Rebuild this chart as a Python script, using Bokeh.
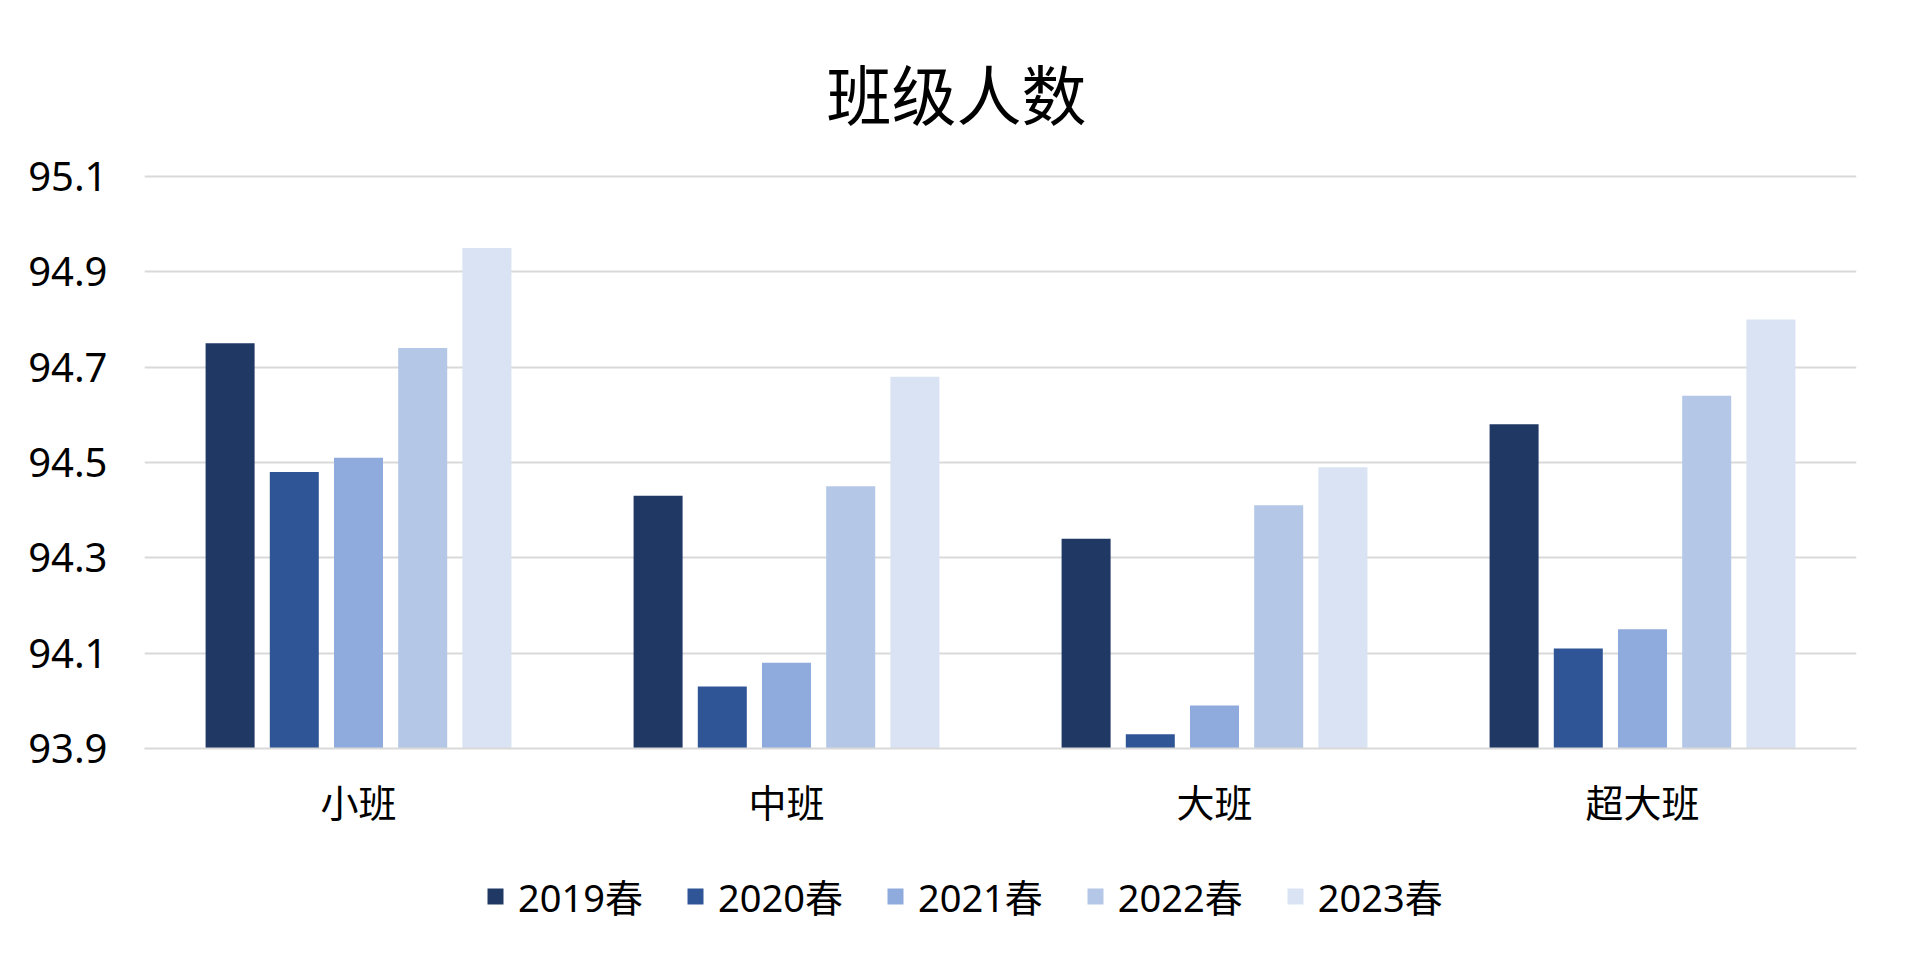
from bokeh.plotting import figure
from bokeh.layouts import column
from bokeh.models import FactorRange, Range1d, Legend, LegendItem, ColumnDataSource, FixedTicker
from bokeh.transform import dodge
from bokeh.embed import file_html
from bokeh.resources import INLINE

categories = ["小班", "中班", "大班", "超大班"]
series = ["2019春", "2020春", "2021春", "2022春", "2023春"]
v2019 = [94.75, 94.43, 94.34, 94.58]
v2020 = [94.48, 94.03, 93.93, 94.11]
v2021 = [94.51, 94.08, 93.99, 94.15]
v2022 = [94.74, 94.45, 94.41, 94.64]
v2023 = [94.95, 94.68, 94.49, 94.80]
values = [v2019, v2020, v2021, v2022, v2023]
colors = ["#203864", "#2f5597", "#8faadc", "#b4c7e7", "#dae3f3"]
y_ticks = [93.9, 94.1, 94.3, 94.5, 94.7, 94.9, 95.1]

Y_MIN, Y_MAX = 93.9, 95.1

data = {"cat": categories}
for s, v in zip(series, values):
    data[s] = v
source = ColumnDataSource(data)

LATIN = "Noto Sans, Noto Sans CJK SC"
CJK = "Noto Sans CJK SC"

W = 1894
H_MAIN = 860
H_LEG = 89
FRAME_LEFT = 144

p = figure(
    width=W, height=H_MAIN,
    x_range=FactorRange(*categories, range_padding=0, factor_padding=0),
    y_range=Range1d(Y_MIN, Y_MAX + 0.004),
    output_backend="svg", toolbar_location=None,
    min_border_left=FRAME_LEFT, min_border_right=38, min_border_top=174, min_border_bottom=H_MAIN - 748,
)
p.outline_line_color = None
p.background_fill_color = "white"
p.border_fill_color = "white"

offsets = [-0.3, -0.15, 0.0, 0.15, 0.3]
for s, c, off in zip(series, colors, offsets):
    p.vbar(x=dodge("cat", off, range=p.x_range), top=s, bottom=Y_MIN, width=0.1145,
           source=source, fill_color=c, line_color=None)

# title
p.title.text = "班级人数"
p.title.align = "left"
p.title.vertical_align = "top"
p.title.text_font = CJK
p.title.text_font_size = "65px"
p.title.text_font_style = "normal"
p.title.text_color = "#000000"
p.title.text_line_height = 0.7
p.title.standoff = 68
p.title.offset = 682

# y axis
p.yaxis.ticker = FixedTicker(ticks=y_ticks)
p.yaxis.formatter.use_scientific = False
p.yaxis.major_label_text_font = LATIN
p.yaxis.major_label_text_font_size = "40px"
p.yaxis.major_label_text_color = "#000000"
p.yaxis.axis_line_color = None
p.yaxis.major_tick_line_color = None
p.yaxis.minor_tick_line_color = None
p.yaxis.major_tick_out = 0
p.yaxis.major_tick_in = 0
p.yaxis.major_label_standoff = 37

# x axis
p.xaxis.major_label_text_font = CJK
p.xaxis.major_label_text_font_size = "38px"
p.xaxis.major_label_text_color = "#000000"
p.xaxis.axis_line_color = "#d9d9d9"
p.xaxis.axis_line_width = 2
p.xaxis.major_tick_line_color = None
p.xaxis.minor_tick_line_color = None
p.xaxis.major_tick_out = 0
p.xaxis.major_tick_in = 0
p.xaxis.major_label_standoff = 24

p.ygrid.ticker = FixedTicker(ticks=y_ticks)
p.ygrid.grid_line_color = "#d9d9d9"
p.ygrid.grid_line_width = 2
p.xgrid.visible = False

# legend figure (below the chart); its frame is aligned with the main frame
lg = figure(width=W, height=H_LEG, x_range=FactorRange(*categories), y_range=Range1d(0, 1),
            output_backend="svg", toolbar_location=None,
            x_axis_location=None, y_axis_location=None,
            min_border_left=FRAME_LEFT, min_border_right=38, min_border_top=0, min_border_bottom=0)
lg.outline_line_color = None
lg.xgrid.visible = False
lg.ygrid.visible = False
lg.background_fill_color = "white"
lg.border_fill_color = "white"

items = []
for s, c in zip(series, colors):
    r = lg.vbar(x="cat", top=s, bottom=Y_MIN, width=0.1, source=source,
                fill_color=c, line_color=None, visible=False)
    items.append(LegendItem(label=s, renderers=[r]))

legend = Legend(items=items, orientation="horizontal", location=(485 - FRAME_LEFT, 26),
                glyph_width=20, glyph_height=20, label_standoff=13, spacing=42,
                padding=0, margin=0, border_line_color=None, background_fill_alpha=0,
                inactive_fill_alpha=0,
                label_text_font=LATIN, label_text_font_size="38px", label_text_color="#000000",
                label_height=40)
lg.add_layout(legend, "center")

layout = column(p, lg, spacing=0)
open("out.html", "w").write(file_html(layout, INLINE))
